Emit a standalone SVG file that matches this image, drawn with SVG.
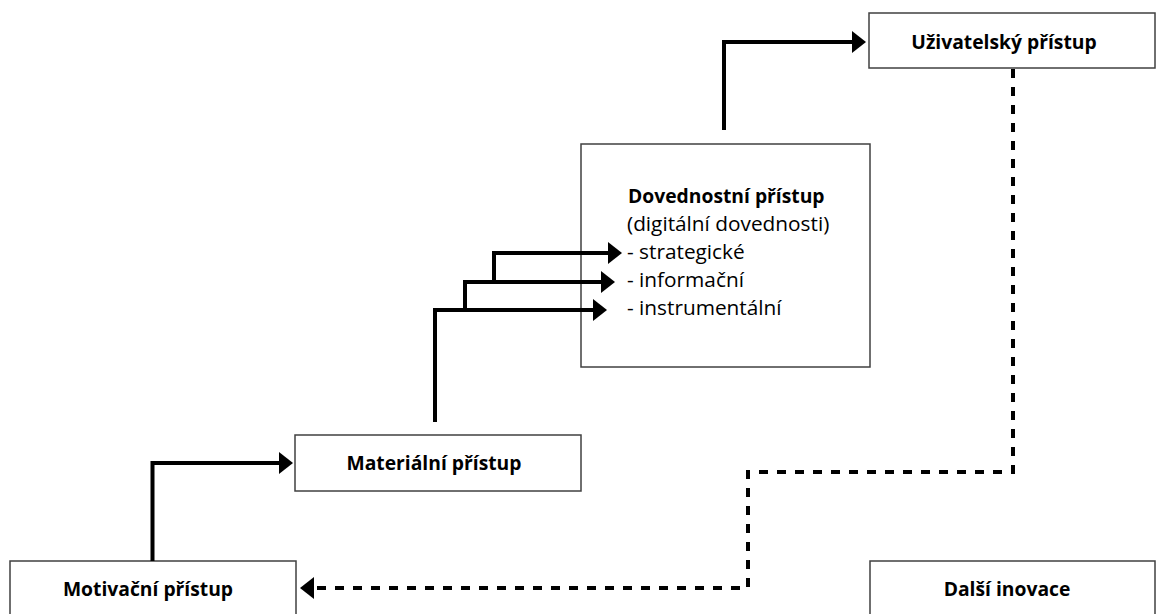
<svg xmlns="http://www.w3.org/2000/svg" width="1157" height="614" viewBox="0 0 1157 614">
  <style>
    .box { fill: #ffffff; stroke: #404040; stroke-width: 1.5; }
    .title { font-family: "Open Sans", "Liberation Sans", sans-serif; font-weight: bold; font-size: 19.3px; fill: #000000; }
    .body { font-family: "Open Sans", "Liberation Sans", sans-serif; font-size: 20.8px; fill: #000000; }
    .link { fill: none; stroke: #000000; stroke-width: 4; stroke-linejoin: miter; }
    .dashed { fill: none; stroke: #000000; stroke-width: 4; stroke-dasharray: 9 9; }
  </style>
  <defs>
    <marker id="head" markerUnits="userSpaceOnUse" markerWidth="15" markerHeight="22" refX="0" refY="11" orient="auto">
      <path d="M0,0 L14,11 L0,22 Z" fill="#000000"/>
    </marker>
  </defs>

  <rect width="1157" height="614" fill="#ffffff"/>

  <g id="motivacni">
    <rect class="box" x="10" y="561" width="286" height="60"/>
    <text class="title" x="148" y="596" text-anchor="middle">Motivační přístup</text>
  </g>

  <g id="materialni">
    <rect class="box" x="295" y="435" width="286" height="56"/>
    <text class="title" x="434" y="470" text-anchor="middle">Materiální přístup</text>
  </g>

  <g id="dovednostni">
    <rect class="box" x="581" y="144" width="289" height="223"/>
    <text class="title" x="628" y="203">Dovednostní přístup</text>
    <text class="body" x="627" y="231">(digitální dovednosti)</text>
    <text class="body" x="627" y="259">- strategické</text>
    <text class="body" x="627" y="287">- informační</text>
    <text class="body" x="627" y="315">- instrumentální</text>
  </g>

  <g id="uzivatelsky">
    <rect class="box" x="869" y="13" width="286" height="55"/>
    <text class="title" x="1004" y="49" text-anchor="middle">Uživatelský přístup</text>
  </g>

  <g id="dalsi-inovace">
    <rect class="box" x="870" y="561" width="285" height="60"/>
    <text class="title" x="1007" y="596" text-anchor="middle">Další inovace</text>
  </g>

  <g id="connectors">
    <path class="link" d="M152.5,561 V463 H279" marker-end="url(#head)"/>
    <path class="link" d="M435,422 V310 H593" marker-end="url(#head)"/>
    <path class="link" d="M465,310 V282 H601" marker-end="url(#head)"/>
    <path class="link" d="M494,282 V253 H608" marker-end="url(#head)"/>
    <path class="link" d="M724,130 V42 H852" marker-end="url(#head)"/>
    <path class="dashed" d="M1013,69 V472 H748 V588 H314" marker-end="url(#head)"/>
  </g>
</svg>
